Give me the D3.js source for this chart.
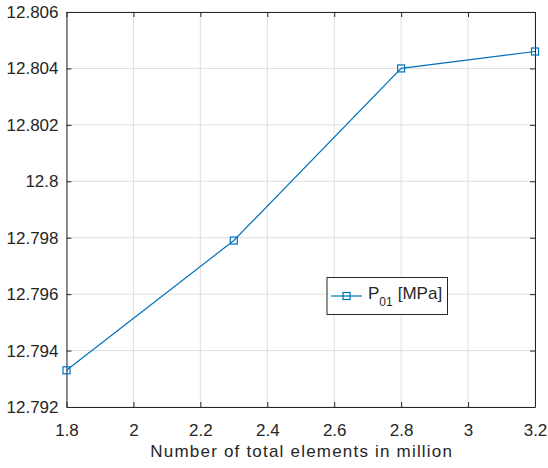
<!DOCTYPE html>
<html lang="en">
<head>
<meta charset="UTF-8">
<script src="https://cdnjs.cloudflare.com/ajax/libs/d3/7.8.5/d3.min.js"></script>
<style>
body { margin: 0; background: #fff; }
svg { display: block; font-family: "Liberation Sans", Arial, sans-serif; }
</style>
</head>
<body>
<script>
var elements = [1.8, 2.3, 2.8, 3.2];
var pressure = [12.7933, 12.7979, 12.804, 12.8046];
var xTicks = [1.8, 2, 2.2, 2.4, 2.6, 2.8, 3, 3.2];
var yTicks = [12.792, 12.794, 12.796, 12.798, 12.8, 12.802, 12.804, 12.806];

var margin = {top: 12, right: 13, bottom: 61, left: 66.5},
    W = 548, H = 468,
    width = W - margin.left - margin.right,
    height = H - margin.top - margin.bottom;

var blue = "#0072BD", axisCol = "#262626", gridCol = "#dfdfdf";

var svg = d3.select("body").append("svg")
    .attr("width", W).attr("height", H);
var g = svg.append("g")
    .attr("transform", "translate(" + margin.left + "," + margin.top + ")");

var x = d3.scaleLinear().domain([1.8, 3.2]).range([0, width]);
var y = d3.scaleLinear().domain([12.792, 12.806]).range([height, 0]);

// grid
g.selectAll(".gx").data(xTicks).enter().append("line")
  .attr("x1", d => x(d)).attr("x2", d => x(d))
  .attr("y1", 0).attr("y2", height)
  .attr("stroke", gridCol).attr("stroke-width", 1);
g.selectAll(".gy").data(yTicks).enter().append("line")
  .attr("y1", d => y(d)).attr("y2", d => y(d))
  .attr("x1", 0).attr("x2", width)
  .attr("stroke", gridCol).attr("stroke-width", 1);

// axes, ticks point inward on all four sides
var xAxis = d3.axisBottom(x).tickValues(xTicks).tickSizeInner(-5).tickSizeOuter(0).tickPadding(17).tickFormat(d => +d.toFixed(1));
var yAxis = d3.axisLeft(y).tickValues(yTicks).tickSizeInner(-5).tickSizeOuter(0).tickPadding(8).tickFormat(d => +d.toFixed(3));
var xTop = d3.axisTop(x).tickValues(xTicks).tickSizeInner(-5).tickSizeOuter(0).tickFormat("");
var yRight = d3.axisRight(y).tickValues(yTicks).tickSizeInner(-5).tickSizeOuter(0).tickFormat("");

function style(sel) {
  sel.selectAll("path").attr("stroke", axisCol).attr("stroke-width", 1);
  sel.selectAll("line").attr("stroke", axisCol).attr("stroke-width", 1);
  sel.selectAll("text").attr("fill", axisCol).style("font-size", "17px");
}
g.append("g").attr("transform", "translate(0," + height + ")").call(xAxis).call(style);
g.append("g").call(yAxis).call(style);
g.append("g").call(xTop).call(style);
g.append("g").attr("transform", "translate(" + width + ",0)").call(yRight).call(style);

// x label
g.append("text")
  .attr("x", width / 2 + 1).attr("y", height + 49.5)
  .attr("text-anchor", "middle")
  .attr("fill", axisCol)
  .style("font-size", "17px")
  .style("letter-spacing", "1.2px")
  .text("Number of total elements in million");

// line
var pts = elements.map((e, i) => [e, pressure[i]]);
g.append("path").datum(pts)
  .attr("fill", "none").attr("stroke", blue).attr("stroke-width", 1.2)
  .attr("d", d3.line().x(d => x(d[0])).y(d => y(d[1])));
g.selectAll(".mk").data(pts).enter().append("rect")
  .attr("x", d => x(d[0]) - 3.5).attr("y", d => y(d[1]) - 3.5)
  .attr("width", 7).attr("height", 7)
  .attr("fill", "none").attr("stroke", blue).attr("stroke-width", 1.2);

// legend
var lg = svg.append("g").attr("transform", "translate(327,277.5)");
lg.append("rect").attr("width", 120.5).attr("height", 37)
  .attr("fill", "#fff").attr("stroke", axisCol).attr("stroke-width", 1);
lg.append("line").attr("x1", 4).attr("x2", 35).attr("y1", 18.5).attr("y2", 18.5)
  .attr("stroke", blue).attr("stroke-width", 1.2);
lg.append("rect").attr("x", 16).attr("y", 15).attr("width", 7).attr("height", 7)
  .attr("fill", "none").attr("stroke", blue).attr("stroke-width", 1.2);
var t = lg.append("text").attr("x", 41).attr("y", 21).attr("fill", axisCol).style("font-size", "17px");
t.append("tspan").text("P");
t.append("tspan").attr("dy", 7).style("font-size", "12px").text("01");
t.append("tspan").attr("dy", -7).attr("dx", 5).text("[MPa]");
</script>
</body>
</html>
